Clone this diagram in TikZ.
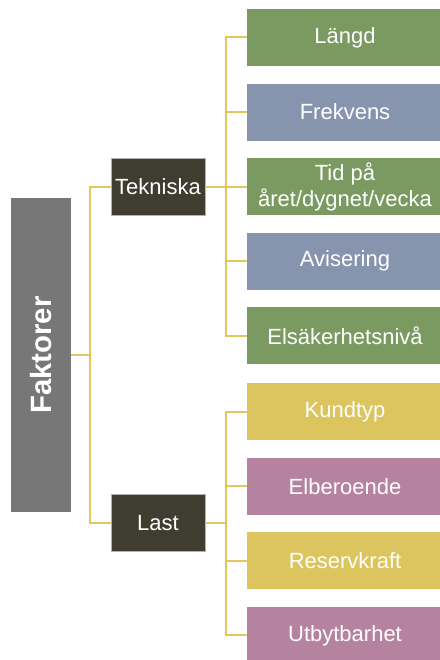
\documentclass[tikz,border=0pt]{standalone}
\usepackage{fontspec}
\setmainfont{Liberation Sans}
\usetikzlibrary{positioning}

\definecolor{leafgreen}{HTML}{7A9A62}
\definecolor{leafblue}{HTML}{8794AE}
\definecolor{leafyellow}{HTML}{DCC55E}
\definecolor{leafpurple}{HTML}{B5839F}
\definecolor{groupdark}{HTML}{3F3C30}
\definecolor{rootgray}{HTML}{777777}
\definecolor{linkgold}{HTML}{E2C85C}

\begin{document}
\begin{tikzpicture}[
    x=0.75pt, y=-0.75pt,
    root/.style={rectangle, fill=rootgray, text=white, minimum width=45pt, minimum height=235.5pt, inner sep=0pt, outer sep=0pt, font=\fontsize{22}{26}\bfseries\selectfont},
    group/.style={rectangle, fill=groupdark, draw=gray!60, line width=0.4pt, text=white, minimum width=70.5pt, minimum height=42.75pt, inner sep=0pt, outer sep=0pt, font=\fontsize{16.5}{19.5}\selectfont},
    leaf/.style={rectangle, text=white, minimum width=147pt, minimum height=42.75pt, inner sep=0pt, outer sep=0pt, align=center, font=\fontsize{16.5}{19.5}\selectfont},
    link/.style={draw=linkgold, line width=1.5pt}
]
    \useasboundingbox (0,0) rectangle (439,660);

    \node[root] (fak) at (41,355) {\rotatebox{90}{Faktorer}};

    \node[group] (tek) at (158,187) {Tekniska};
    \node[group] (last) at (158,523) {Last};

    % tekniska faktorer
    \node[leaf, fill=leafgreen] (lengd) at (345,37.5) {Längd};
    \node[leaf, fill=leafblue] (frek) [below=13.2pt of lengd] {Frekvens};
    \node[leaf, fill=leafgreen] (tid) [below=13.2pt of frek] {Tid på\\året/dygnet/vecka};
    \node[leaf, fill=leafblue] (avis) [below=13.2pt of tid] {Avisering};
    \node[leaf, fill=leafgreen] (elsak) [below=13.2pt of avis] {Elsäkerhetsnivå};

    % last
    \node[leaf, fill=leafyellow] (kund) [below=14pt of elsak] {Kundtyp};
    \node[leaf, fill=leafpurple] (elber) [below=13.2pt of kund] {Elberoende};
    \node[leaf, fill=leafyellow] (reserv) [below=13.2pt of elber] {Reservkraft};
    \node[leaf, fill=leafpurple] (utbyt) [below=13.2pt of reserv] {Utbytbarhet};

    \draw[link] (fak.east) -- ++(19,0) |- (tek.west);
    \draw[link] (fak.east) -- ++(19,0) |- (last.west);

    \foreach \n in {lengd, frek, tid, avis, elsak}
        \draw[link] (tek.east) -- ++(21,0) |- (\n.west);
    \foreach \n in {kund, elber, reserv, utbyt}
        \draw[link] (last.east) -- ++(21,0) |- (\n.west);
\end{tikzpicture}
\end{document}
